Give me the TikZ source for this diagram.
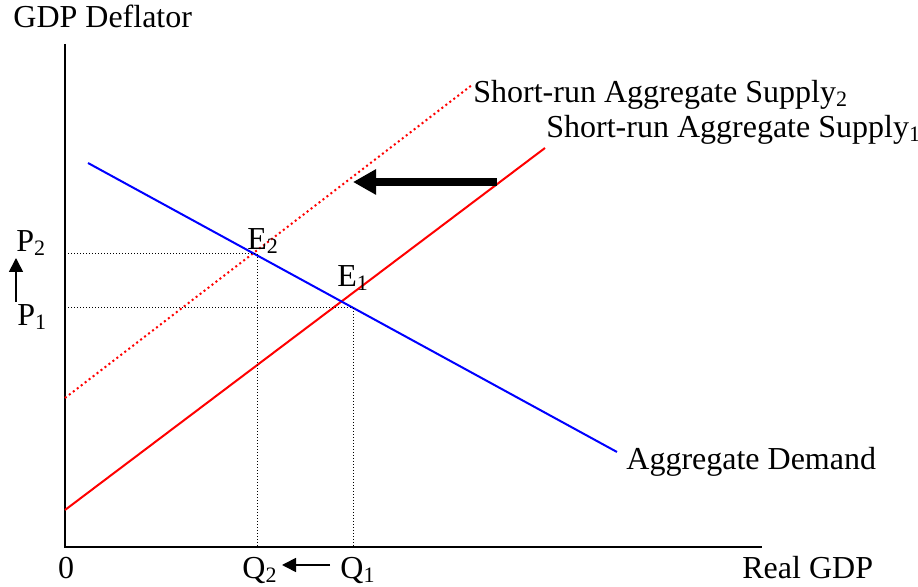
\documentclass[tikz,border=0pt]{standalone}
\usepackage{fontspec}
\setmainfont{Liberation Serif}
\usetikzlibrary{arrows.meta}
\definecolor{srasred}{HTML}{FF0000}
\definecolor{adblue}{HTML}{0000FF}
\newcommand{\sbs}[1]{\raisebox{-2pt}{\fontsize{11}{13}\selectfont #1}}

\begin{document}
\begin{tikzpicture}[x=0.5pt, y=-0.5pt,
        lbl/.style={font=\fontsize{16}{19}\selectfont, inner sep=0pt, anchor=base west, text=black},
        axis/.style={line width=1pt, black},
        guide/.style={line width=0.5pt, black, dash pattern=on 0.5pt off 1pt},
        sras/.style={line width=1pt, srasred},
        srasnew/.style={line width=1pt, srasred, dash pattern=on 1pt off 1.5pt},
        demand/.style={line width=1pt, adblue},
        bigshift/.style={-{Triangle[length=11.5pt, width=12pt]}, line width=4pt, black},
        move/.style={-{Triangle[length=7pt, width=7pt]}, line width=0.8pt, black}
    ]
        \useasboundingbox (0,0) rectangle (918,587);

        % axes
        \coordinate (origin) at (65,547);
        \coordinate (ytop) at (65,44);
        \coordinate (xend) at (762,547);
        \draw [axis] (ytop) -- (origin) -- (xend);
        \node (ylabel) [lbl] at (13,28) {GDP Deflator};
        \node (xlabel) [lbl] at (742,579) {Real GDP};
        \node (zero) [lbl, anchor=base] at (66,579) {0};

        % curves
        \coordinate (sras1a) at (65,510);
        \coordinate (sras1b) at (545,148);
        \coordinate (sras2a) at (65,398);
        \coordinate (sras2b) at (472,85);
        \coordinate (ada) at (88,163);
        \coordinate (adb) at (617,452);
        \draw [sras] (sras1a) -- (sras1b);
        \draw [srasnew] (sras2a) -- (sras2b);
        \draw [demand] (ada) -- (adb);

        \node (sras2lbl) [lbl] at (473,103) {Short-run Aggregate Supply\sbs{2}};
        \node (sras1lbl) [lbl] at (546,138) {Short-run Aggregate Supply\sbs{1}};
        \node (adlbl) [lbl] at (626,470) {Aggregate Demand};

        % equilibria
        \coordinate (e2) at (257,254);
        \coordinate (e1) at (353,308);
        \node (e2lbl) [lbl] at (247,250) {E\sbs{2}};
        \node (e1lbl) [lbl] at (337,287) {E\sbs{1}};
        \draw [guide] (68,254) -- (e2) -- (e2 |- origin);
        \draw [guide] (68,308) -- (e1) -- (e1 |- origin);

        % price and quantity labels
        \node (p2) [lbl] at (16,252) {P\sbs{2}};
        \node (p1) [lbl] at (17,326) {P\sbs{1}};
        \node (q2) [lbl] at (242,579) {Q\sbs{2}};
        \node (q1) [lbl] at (340,579) {Q\sbs{1}};

        % shifts
        \coordinate (shifttail) at (497,182);
        \coordinate (shifthead) at (353,182);
        \draw [bigshift] (shifttail) -- (shifthead);
        \draw [move] (16,302) -- (16,258);
        \draw [move] (330,565) -- (282,565);
    \end{tikzpicture}
\end{document}
